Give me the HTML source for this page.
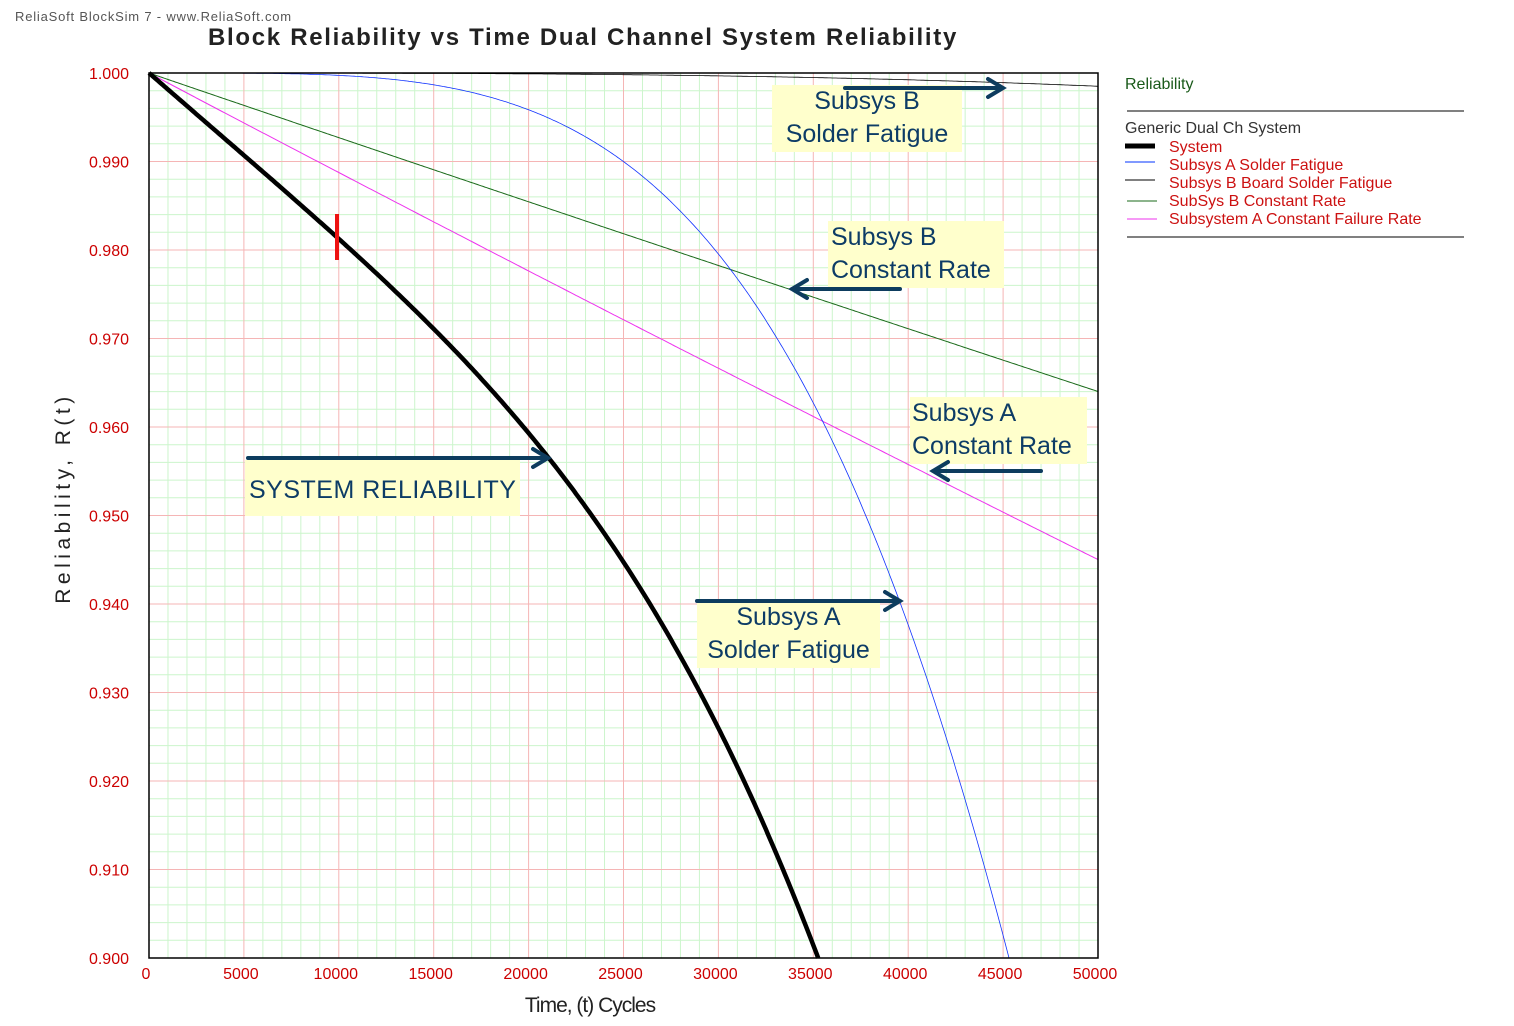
<!DOCTYPE html>
<html><head><meta charset="utf-8"><style>
body{margin:0;background:#fff;width:1514px;height:1026px;overflow:hidden;font-family:"Liberation Sans","DejaVu Sans",sans-serif;}
svg{position:absolute;left:0;top:0}
.box{position:absolute;background:#ffffcc;color:#0d3c66;font-size:25px;line-height:33px;text-align:center;}
</style></head><body>
<svg id="s" width="1514" height="1026" xmlns="http://www.w3.org/2000/svg">
<g id="grid"></g>
<g id="curves"></g>
<rect x="149" y="73" width="949" height="885" fill="none" stroke="#000" stroke-width="1.5"/>
<line x1="337" y1="214" x2="337" y2="260" stroke="#ee1111" stroke-width="4"/>
<text x="15" y="21" font-size="13" fill="#555" letter-spacing="0.8">ReliaSoft BlockSim 7 - www.ReliaSoft.com</text>
<text x="208" y="45" font-size="24" font-weight="bold" fill="#222" letter-spacing="1.7">Block Reliability vs Time Dual Channel System Reliability</text>
<g id="ylab" font-size="16" fill="#cc0000" text-anchor="end"></g>
<g id="xlab" font-size="16" fill="#cc0000" text-anchor="middle"></g>
<text x="590" y="1012" font-size="21" fill="#222" text-anchor="middle" letter-spacing="-1">Time, (t) Cycles</text>
<text transform="translate(70,498) rotate(-90)" font-size="21" fill="#222" text-anchor="middle" letter-spacing="4.5">Reliability, R(t)</text>
<text x="1125" y="89" font-size="16" fill="#1a5a1a">Reliability</text>
<line x1="1127" y1="111" x2="1464" y2="111" stroke="#000"/>
<text x="1125" y="133" font-size="16" fill="#333">Generic Dual Ch System</text>
<line x1="1125" y1="146" x2="1155" y2="146" stroke="#000" stroke-width="5"/>
<line x1="1125" y1="162" x2="1155" y2="162" stroke="#0033ff"/>
<line x1="1125" y1="180" x2="1155" y2="180" stroke="#000"/>
<line x1="1127" y1="201" x2="1157" y2="201" stroke="#1a6a1a"/>
<line x1="1127" y1="219" x2="1157" y2="219" stroke="#ee33ee"/>
<g font-size="16" fill="#cc1111">
<text x="1169" y="152">System</text>
<text x="1169" y="170">Subsys A Solder Fatigue</text>
<text x="1169" y="188">Subsys B Board Solder Fatigue</text>
<text x="1169" y="206">SubSys B Constant Rate</text>
<text x="1169" y="224">Subsystem A Constant Failure Rate</text>
</g>
<line x1="1127" y1="237" x2="1464" y2="237" stroke="#000"/>
</svg>
<div class="box" style="left:772px;top:85px;width:190px;height:67px">Subsys B<br>Solder Fatigue</div>
<div class="box" style="left:828px;top:221px;width:176px;height:67px;text-align:left;padding-left:3px;box-sizing:border-box">Subsys B<br>Constant Rate</div>
<div class="box" style="left:910px;top:397px;width:177px;height:67px;text-align:left;padding-left:2px;box-sizing:border-box">Subsys A<br>Constant Rate</div>
<div class="box" style="left:245px;top:460px;width:275px;height:56px;line-height:60px;text-align:left;padding-left:4px;box-sizing:border-box;letter-spacing:0.5px">SYSTEM RELIABILITY</div>
<div class="box" style="left:697px;top:601px;width:183px;height:67px">Subsys A<br>Solder Fatigue</div>
<svg width="1514" height="1026" xmlns="http://www.w3.org/2000/svg" style="pointer-events:none">
<g stroke="#0d3c5e" stroke-width="4" fill="none" stroke-linecap="round">
<path d="M845 88H1003M988 79L1003 88L988 97"/>
<path d="M900 289H792M807 280L792 289L807 298"/>
<path d="M1041 471H933M948 462L933 471L948 480"/>
<path d="M248 458H548M533 449L548 458L533 467"/>
<path d="M697 601H900M885 592L900 601L885 610"/>
</g>
</svg>
<script>
const X0=149,X1=1098,Y0=73,Y1=958;
const sx=t=>X0+(t/50000)*(X1-X0), sy=r=>Y0+(1-r)/0.1*(Y1-Y0);
let g='';
for(let i=0;i<=50;i++){const x=X0+i*(X1-X0)/50;if(i%5)g+=`<line x1="${x}" y1="${Y0}" x2="${x}" y2="${Y1}" stroke="#ccf5cc"/>`;}
for(let i=0;i<=50;i++){const y=Y0+i*(Y1-Y0)/50;if(i%5)g+=`<line x1="${X0}" y1="${y}" x2="${X1}" y2="${y}" stroke="#ccf5cc"/>`;}
for(let i=1;i<10;i++){const x=X0+i*(X1-X0)/10;g+=`<line x1="${x}" y1="${Y0}" x2="${x}" y2="${Y1}" stroke="#f5b5b5"/>`;}
for(let i=1;i<10;i++){const y=Y0+i*(Y1-Y0)/10;g+=`<line x1="${X0}" y1="${y}" x2="${X1}" y2="${y}" stroke="#f5b5b5"/>`;}
document.getElementById('grid').innerHTML=g;
const pink=t=>Math.exp(-0.01131*t/10000), green=t=>Math.exp(-0.00733*t/10000),
blue=t=>Math.exp(-Math.pow(t/80100,3.95)), blk=t=>Math.exp(-0.0015*Math.pow(t/50000,3)),
sys=t=>pink(t)*green(t)*blue(t)*blk(t);
function path(f,col,w){let d='';for(let t=0;t<=50000;t+=100){const r=f(t);if(r<0.9)break;d+=(d?'L':'M')+sx(t).toFixed(1)+' '+sy(r).toFixed(1);}
let lo=0,hi=50000;if(f(50000)<0.9){for(let k=0;k<40;k++){const m=(lo+hi)/2;if(f(m)>=0.9)lo=m;else hi=m;}d+='L'+sx(lo).toFixed(1)+' '+Y1;}
return `<path d="${d}" fill="none" stroke="${col}" stroke-width="${w}"/>`;}
document.getElementById('curves').innerHTML=path(green,'#1a6a1a',1)+path(pink,'#ee33ee',1)+path(blk,'#000',0.8)+path(blue,'#1133ff',0.8)+path(sys,'#000',4.5);
let yl='';for(let i=0;i<=10;i++){yl+=`<text x="129" y="${Y0+i*(Y1-Y0)/10+6}">${(1-i*0.01).toFixed(3)}</text>`;}
document.getElementById('ylab').innerHTML=yl;
let xl='';for(let i=0;i<=10;i++){xl+=`<text x="${X0+i*(X1-X0)/10-3}" y="979">${i*5000}</text>`;}
document.getElementById('xlab').innerHTML=xl;
</script>
</body></html>
